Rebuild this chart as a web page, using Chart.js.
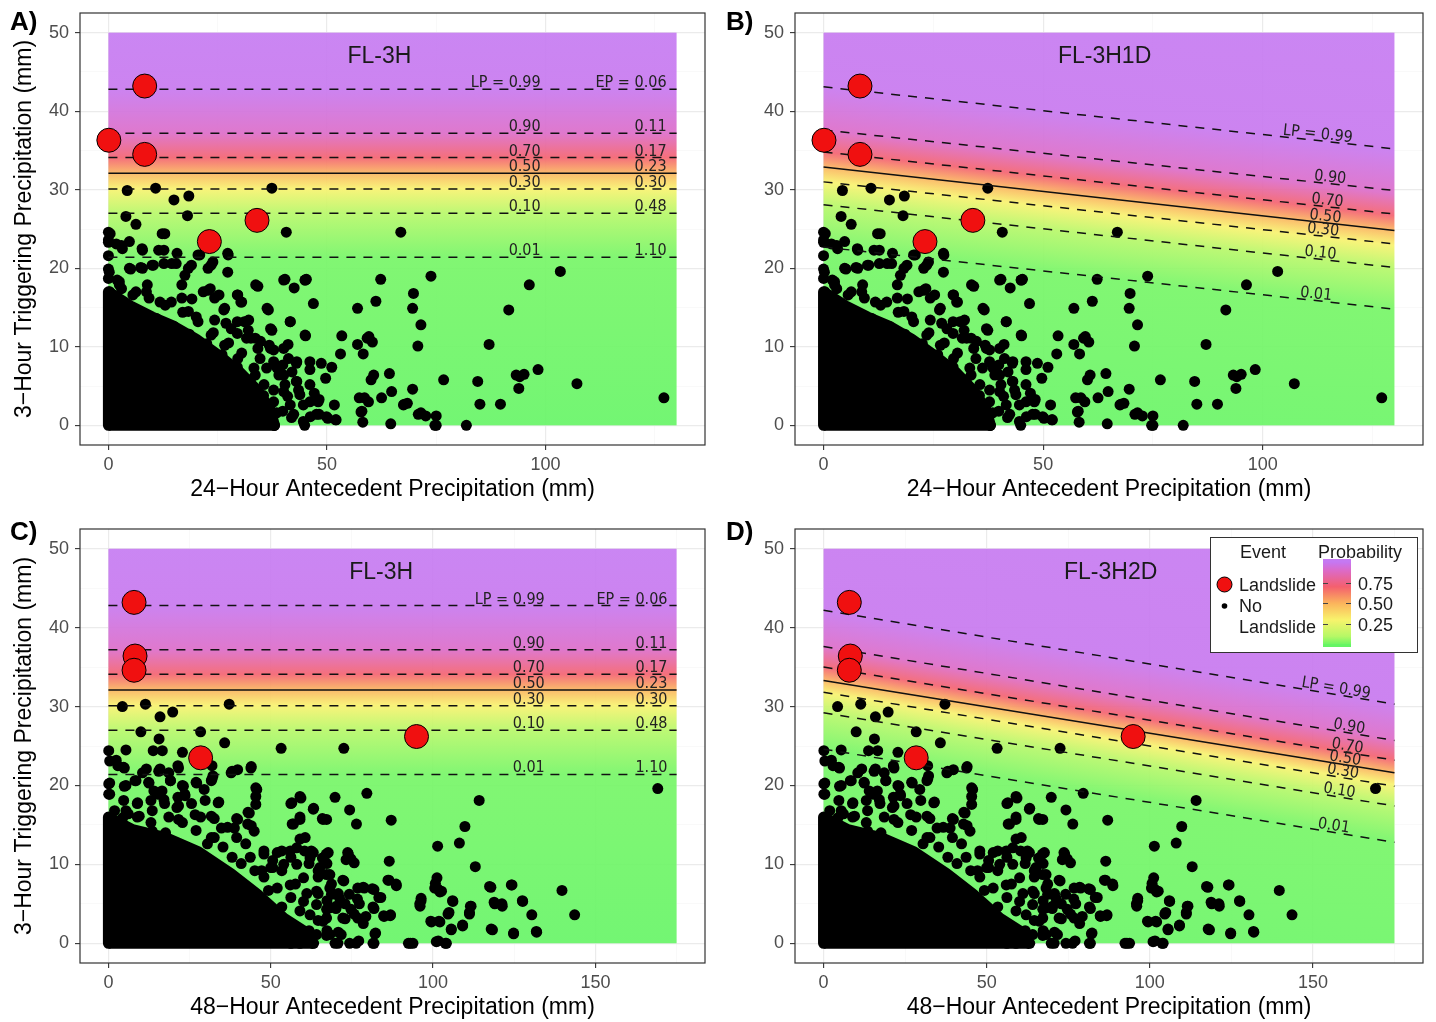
<!DOCTYPE html>
<html>
<head>
<meta charset="utf-8">
<script src="https://cdn.jsdelivr.net/npm/chart.js@4.4.1/dist/chart.umd.min.js"></script>
<style>
body { margin: 0; background: #fff; }
#wrap { position: relative; width: 1436px; height: 1022px; overflow: hidden; }
canvas { position: absolute; }
</style>
</head>
<body>
<div id="wrap">
	<canvas id="panelA" width="718" height="511" style="left:0;top:0"></canvas>
	<canvas id="panelB" width="720" height="511" style="left:716px;top:0"></canvas>
	<canvas id="panelC" width="718" height="511" style="left:0;top:511px"></canvas>
	<canvas id="panelD" width="720" height="511" style="left:716px;top:511px"></canvas>
</div>
<script>
// tick values
const yMajor = [0, 10, 20, 30, 40, 50];
const yMinor = [5, 15, 25, 35, 45];
const x24Major = [0, 50, 100];
const x24Minor = [25, 75, 125];
const x48Major = [0, 50, 100, 150];
const x48Minor = [25, 75, 125, 175];

// probability contours (3-hour value at x = 0 and at the right end)
const probLevels = [0.01, 0.10, 0.30, 0.50, 0.70, 0.90, 0.99];
const epLabels = ["1.10", "0.48", "0.30", "0.23", "0.17", "0.11", "0.06"];
const fl3hStart = [21.4, 27.0, 30.1, 32.1, 34.1, 37.2, 42.8];
const fl3hEnd = [21.4, 27.0, 30.1, 32.1, 34.1, 37.2, 42.8];
const fl3h1dStart = [22.7, 28.1, 31.0, 32.9, 34.8, 37.6, 43.1];
const fl3h1dEnd = [14.8, 20.1, 23.1, 24.8, 26.9, 29.9, 35.2];
const fl3h2dStart = [24.6, 29.2, 31.8, 33.3, 35.0, 37.6, 42.2];
const fl3h2dEnd = [12.8, 17.4, 19.9, 21.6, 23.2, 25.7, 30.3];

// landslide events [antecedent, 3-hour]
const landslide24 = [[0.1, 36.3], [8.3, 43.2], [8.3, 34.5], [23.1, 23.4], [34.0, 26.1]];
const landslide48 = [[7.9, 43.2], [8.2, 36.4], [7.9, 34.6], [28.4, 23.5], [94.9, 26.2]];

// outline of the solid mass of overlapping no-landslide points
const dense24 = [[0, 0], [0, 17], [5, 15.2], [10, 13.8], [15, 12.6], [20, 11], [25, 9], [30, 6.8], [34, 4.5],
	[37, 2], [38, 0]];
const dense48 = [[0, 0], [0, 16], [7.4, 14.4], [17.6, 13.4], [27.7, 11.6], [37.8, 8.8], [45.9, 6.2], [54, 3.2],
	[60, 1.6], [63, 0]];

// single no-landslide points outside the mass
const noLandslide24 = [
	[4.3,29.9],[10.8,30.2],[37.4,30.2],[15.0,28.7],[18.4,29.2],[4.0,26.6],[6.3,25.6],[18.1,26.7],[40.7,24.6],[66.9,24.6],
	[0.4,24.4],[12.9,24.4],[7.7,22.5],[3.0,22.9],[12.7,22.3],[20.9,21.7],[27.4,21.7],[10.3,20.4],[15.5,20.6],[19.0,20.4],
	[23.5,20.4],[5.1,19.9],[7.4,20.1],[40.4,18.6],[45.3,18.6],[42.5,17.5],[34.2,17.7],[62.3,18.6],[73.8,19.0],[103.4,19.6],
	[96.3,17.9],[69.8,16.8],[61.2,15.8],[46.9,15.5],[57.0,14.9],[69.6,14.9],[91.6,14.7],[36.6,14.7],[29.5,16.6],[30.5,15.7],
	[26.4,14.7],[17.0,14.4],[41.6,13.2],[71.5,12.8],[37.4,12.1],[26.9,13.0],[45.1,11.4],[53.4,11.4],[59.6,11.3],[60.4,10.6],
	[57.0,10.3],[70.8,10.1],[87.1,10.3],[53.1,9.1],[58.3,9.1],[41.1,10.3],[37.8,9.6],[34.7,8.5],[43.0,7.9],[46.1,8.1],
	[48.7,7.9],[51.1,7.4],[42.0,6.8],[39.0,6.4],[49.7,6.0],[60.7,6.4],[64.3,6.6],[76.7,5.8],[84.5,5.6],[94.1,6.2],
	[95.1,6.5],[98.3,7.1],[107.2,5.3],[93.9,4.7],[69.6,4.6],[64.8,4.3],[58.6,3.5],[62.5,3.5],[48.2,3.3],[51.7,2.6],
	[47.1,4.1],[41.0,3.7],[67.7,2.7],[68.4,2.8],[85.0,2.7],[89.7,2.7],[127.1,3.5],[58.0,1.8],[71.5,1.6],[72.6,1.2],
	[75.0,1.2],[52.1,0.7],[50.2,0.9],[58.2,0.4],[64.6,0.2],[75.0,0.0],[81.9,0.0],[44.9,0.0],[38.0,0.0],[41.9,1.0],
	[46.2,1.1],[48.2,1.4],[34.7,1.4],[0,24.6],[0,23.3],[0,21.6],[0,19.9],[0,18.7],[0.3,17.0],[2.0,18.5],
	[3.0,17.4],[5.6,16.6],[8.7,17.0],[11.8,15.7],[14.4,15.7],[19.1,16.1],[21.7,17.0],[23.3,17.4],[25.3,16.6],[20.1,13.8],
	[24.3,13.4],[29.5,13.2],[32.1,13.4],[29.5,11.7],[32.0,12.1],[33.6,11.1],[36.8,10.2],[34.2,9.8],[31.6,11.1],[37.8,8.1],
	[39.9,7.7],[36.2,7.3],[33.6,6.4],[40.4,5.2],[37.8,4.5],[43.0,5.6],[43.5,4.5],[44.6,2.6],[37.8,3.0],[35.7,2.2],
	[39.9,1.8],[59.2,11.1],[60.1,5.8],[57.4,3.5],[59.5,3.0],[67.5,2.6],[70.9,1.4],[74.7,0.0],[57.8,1.7],[45.0,18.5],
	[48.0,3.0],[47.6,1.4],[49.9,1.1],[52.0,0.7],[93.3,6.4],[1.5,16.2],[4.5,15.0],[7.5,14.4],[11.0,13.6],[15.0,12.6],
	[18.5,11.6],[22.5,10.4],[26.0,9.0],[29.5,7.4],[32.5,5.8],[35.5,3.8],[38.5,1.6],[27.5,10.5],[24.0,11.8],[30.5,9.2],
	[0,23.6],[1.8,23.1],[3.2,22.5],[4.8,23.4],[7.8,22.3],[12.3,24.4],[11.5,22.3],[15.7,21.9],[20.5,21.7],[23.9,20.8],
	[27.3,21.9],[4.8,20.0],[7.8,20.0],[10.0,20.4],[12.7,20.6],[14.5,20.6],[18.3,20.0],[22.8,20.0],[27.3,19.5],[17.5,19.1],
	[16.8,17.9],[8.9,17.9],[2.5,18.3],[0.2,19.5],[22.8,17.2],[24.3,16.2],[29.6,16.6],[30.3,15.7],[26.6,14.9],[36.3,14.9],
	[37.1,12.3],[41.6,13.2],[45.0,11.5],[31.1,13.2],[28.1,12.3],[32.6,11.1],[34.8,10.7],[37.1,9.8],[40.1,9.8],[41.2,8.5],
	[43.1,8.1],[46.1,7.1],[38.6,7.3],[40.1,6.4],[43.1,5.6],[46.1,5.2],[40.1,4.3],[43.8,3.9],[46.1,3.0],[41.6,2.6],
	[37.8,0.1],[44.6,0.5],[42.4,1.4],[35.6,5.2],[33.3,7.3],[29.6,8.5],[26.6,10.2],[23.5,11.5],[20.5,13.2],[18.3,14.5],
	[16.8,16.2],[13.0,15.3],[9.3,16.2],[6.3,17.0],[2.5,17.9],[33.7,17.9],[40.1,18.5],[45.0,18.5]
];
const noLandslide48 = [
	[4.3,30.0],[11.4,30.3],[37.2,30.3],[15.9,28.7],[19.8,29.3],[10.0,26.8],[28.4,26.8],[15.6,25.9],[35.8,25.4],[53.2,24.7],
	[72.5,24.7],[5.4,24.5],[0.1,24.4],[13.8,24.4],[16.6,24.4],[22.8,24.2],[2.4,23.2],[4.7,22.3],[11.7,22.1],[15.9,22.1],
	[21.4,22.5],[31.9,22.5],[38.1,21.8],[39.8,22.0],[44.0,22.4],[0.1,20.2],[5.4,20.0],[8.2,20.6],[12.4,20.4],[19.1,20.6],
	[22.8,20.0],[27.0,20.4],[31.9,20.8],[0.1,18.9],[15.2,18.9],[23.5,18.9],[45.4,19.7],[45.4,18.6],[59.0,18.6],[56.2,17.7],
	[69.8,18.5],[79.6,19.0],[114.2,18.1],[169.2,19.6],[34.0,17.9],[43.0,16.6],[39.5,15.8],[44.0,14.9],[59.0,16.0],[63.2,17.1],
	[65.9,15.8],[74.3,16.9],[76.4,15.1],[87.1,15.6],[109.8,14.8],[56.6,15.1],[59.0,13.2],[60.4,11.7],[101.4,12.3],[108.1,12.7],
	[86.5,10.4],[73.9,11.3],[74.7,10.7],[65.9,10.8],[62.5,11.7],[53.4,11.7],[56.2,10.9],[50.6,10.5],[113.0,9.7],[72.5,7.9],
	[86.1,8.0],[88.6,7.5],[81.3,6.9],[78.5,7.1],[76.7,5.6],[83.3,5.8],[100.7,7.6],[101.4,6.9],[102.1,6.5],[96.3,5.4],
	[95.9,5.0],[117.4,7.2],[124.1,7.4],[139.7,6.7],[118.8,5.2],[121.2,5.0],[127.5,5.4],[106.0,5.4],[111.5,4.7],[111.2,3.9],
	[104.9,3.9],[130.4,3.6],[143.6,3.6],[81.5,4.6],[84.8,3.5],[86.8,3.5],[99.3,2.8],[101.8,2.8],[109.1,2.2],[105.6,1.8],
	[117.9,1.8],[124.8,1.3],[131.8,1.5],[82.1,1.2],[81.5,0.0],[77.1,0.3],[74.3,0.0],[69.8,0.0],[63.2,0.0],[59.0,0.0],
	[56.2,0.0],[92.4,0.0],[93.8,0.0],[101.0,0.2],[103.8,0.0],[64.6,6.3],[67.3,5.4],[70.1,4.4],[72.9,3.1],[64.6,2.9],
	[61.8,1.6],[57.6,0.8],[67.3,1.6],[70.8,1.4],[72.9,5.0],[64.6,8.4],[68.7,7.5],[57.6,7.5],[56.2,5.8],[53.4,4.6],
	[52.0,3.3],[50.6,1.6],[47.9,8.4],[45.1,9.2],[49.3,6.7],[53.4,9.2],[61.8,10.1],[64.6,9.2],[67.3,10.1],[70.8,6.3],
	[75.7,3.7],[78.5,2.5],[59.0,4.1],[61.1,6.3],[8.9,17.7],[13.1,18.1],[17.3,17.7],[21.4,18.5],[25.6,17.7],[29.8,18.1],
	[8.9,16.0],[13.1,15.3],[18.6,16.0],[22.8,15.3],[28.4,16.0],[32.6,15.8],[36.7,14.7],[39.5,13.4],[42.3,12.6],[32.6,13.4],
	[35.3,12.2],[38.1,10.9],[40.9,10.1],[43.7,10.9],[47.9,11.3],[50.6,9.6],[47.2,9.2],[4.7,18.1],[1.9,16.8],[6.1,16.4],
	[27.0,14.3],[30.5,12.6],[1.3,15.1],[0.4,23.1],[2.9,22.5],[4.9,22.2],[10.5,21.6],[15.5,21.8],[18.6,21.6],[21.6,22.2],
	[32.2,21.2],[37.8,21.6],[43.9,22.2],[0.4,20.3],[0.4,18.9],[4.9,19.9],[8.5,20.6],[12.5,20.3],[14.0,19.3],[16.5,19.3],
	[19.1,20.6],[23.1,19.9],[27.2,20.3],[29.5,19.5],[31.7,20.6],[17.1,18.2],[21.6,17.4],[23.6,18.7],[33.8,17.8],[45.7,19.5],
	[45.4,17.6],[9.0,17.8],[5.4,16.8],[13.5,16.8],[21.1,17.2],[26.7,16.3],[31.7,16.1],[39.8,15.7],[43.4,16.5],[42.9,15.1],
	[56.5,17.8],[59.3,18.4],[63.1,17.0],[66.1,15.7],[59.0,15.7],[57.0,15.1],[60.6,13.4],[38.8,14.6],[44.9,14.2],[34.8,14.6],
	[31.7,13.4],[21.6,15.7],[17.6,14.0],[13.5,14.2],[9.5,16.1],[4.4,15.9],[47.9,11.7],[52.0,11.5],[56.0,11.7],[58.0,12.1],
	[63.1,11.5],[67.1,11.3],[62.1,10.8],[58.0,10.0],[54.0,10.0],[50.0,9.6],[65.1,9.6],[68.2,8.7],[60.1,8.3],[56.0,7.4],
	[52.0,7.0],[64.1,6.6],[68.2,7.0],[60.1,5.3],[64.1,4.9],[68.2,4.5],[62.1,3.6],[66.1,2.8],[68.2,1.1],[64.1,1.1],
	[60.1,0.3],[67.2,15.7],[67.7,11.5],[73.7,11.5],[73.2,10.6],[75.7,10.2],[67.2,8.7],[72.2,8.0],[86.4,8.0],[88.7,7.3],
	[101.2,8.3],[100.5,7.0],[102.6,6.6],[68.7,6.2],[71.2,5.7],[74.2,6.2],[76.8,7.0],[78.8,7.0],[81.8,6.8],[83.9,5.8],
	[77.3,5.0],[81.8,4.4],[74.7,4.3],[70.2,4.7],[72.2,3.2],[67.2,3.2],[76.8,3.2],[79.3,3.4],[84.9,3.4],[86.9,3.6],
	[96.3,5.7],[96.0,4.7],[106.1,5.3],[111.7,4.7],[111.2,3.7],[104.6,3.7],[99.5,2.7],[102.1,2.7],[109.1,2.3],[105.6,1.7],
	[117.8,7.1],[124.3,7.4],[119.0,5.0],[121.3,4.7],[127.6,5.3],[118.3,1.7],[124.8,1.2],[131.9,1.4],[82.3,1.3],[81.8,0.0],
	[93.0,0.0],[101.6,0.3],[104.1,0.0],[76.3,0.0],[70.7,0.0],[67.2,1.0],[71.7,1.1],[67.2,4.3]
];

// probability colour ramp (0 .. levels .. 1)
const rampStops = [0, 0.01, 0.10, 0.30, 0.50, 0.70, 0.90, 0.99, 1];
const rampColors = ["#64f564", "#74f664", "#b6f866", "#f8f36c", "#fbb45c", "#f4606e", "#dc6ac8", "#c776ef", "#c579f2"];

Chart.defaults.font.family = '"Liberation Sans", Arial, Helvetica, sans-serif';
const labelFont = '16px "Liberation Sans Narrow", "DejaVu Sans Condensed", sans-serif';

function toPoints(list) {
	return list.map(([x, y]) => ({ x, y }));
}

function gridFor(major) {
	const isMajor = (c) => c.tick && major.includes(c.tick.value);
	return {
		color: (c) => (isMajor(c) ? "#ebebeb" : "#f5f5f5"),
		lineWidth: (c) => (isMajor(c) ? 1.2 : 0.6),
		tickColor: (c) => (isMajor(c) ? "#333333" : "rgba(0,0,0,0)"),
		tickLength: 5,
		tickWidth: 1.1,
	};
}

function axis(major, minor, min, max, size, isX, title, titlePad, tickPad) {
	return {
		type: "linear",
		min: min,
		max: max,
		afterBuildTicks: (s) => {
			s.ticks = major.concat(minor).sort((a, b) => a - b).map((v) => ({ value: v }));
		},
		afterFit: (s) => {
			if (isX) s.height = size;
			else s.width = size;
			s.paddingTop = 0;
			s.paddingBottom = 0;
			s.paddingLeft = 0;
			s.paddingRight = 0;
		},
		grid: gridFor(major),
		border: { display: false },
		ticks: {
			autoSkip: false,
			maxRotation: 0,
			minRotation: 0,
			color: "#4d4d4d",
			font: { size: 18 },
			padding: tickPad,
			callback: (v) => (major.includes(v) ? String(v) : ""),
		},
		title: title
			? {
					display: true,
					text: title,
					color: "#000",
					font: { size: 23 },
					padding: isX ? { top: 0, bottom: titlePad } : { top: titlePad, bottom: 0 },
			  }
			: { display: false },
	};
}

function backgroundPlugin(p) {
	return {
		id: "probBackground",
		beforeDatasetsDraw(chart) {
			const { ctx, scales: { x, y } } = chart;
			const left = x.getPixelForValue(0), right = x.getPixelForValue(p.xMax);
			const top = y.getPixelForValue(50), bottom = y.getPixelForValue(0);
			const mid = probLevels.indexOf(0.5);
			const ax = left, ay = y.getPixelForValue(p.start[mid]);
			const dx = right - left, dy = y.getPixelForValue(p.end[mid]) - ay;
			const len = Math.hypot(dx, dy);
			const nx = dy / len, ny = -dx / len;
			const proj = (px, py) => (px - ax) * nx + (py - ay) * ny;
			const corners = [proj(left, top), proj(right, top), proj(left, bottom), proj(right, bottom)];
			const lo = Math.min(...corners), hi = Math.max(...corners);
			const g = ctx.createLinearGradient(ax + nx * lo, ay + ny * lo, ax + nx * hi, ay + ny * hi);
			g.addColorStop(0, rampColors[0]);
			probLevels.forEach((lev, i) => {
				const t = (proj(left, y.getPixelForValue(p.start[i])) - lo) / (hi - lo);
				g.addColorStop(Math.min(1, Math.max(0, t)), rampColors[i + 1]);
			});
			g.addColorStop(1, rampColors[rampColors.length - 1]);
			ctx.save();
			ctx.globalAlpha = 0.9;
			ctx.fillStyle = g;
			ctx.fillRect(left, top, right - left, bottom - top);
			ctx.restore();
		},
	};
}

function decorPlugin(p) {
	return {
		id: "decor",
		afterDatasetsDraw(chart) {
			const { ctx, scales: { x, y } } = chart;
			const last = probLevels.length - 1;
			ctx.save();
			ctx.fillStyle = "#1a1a1a";
			ctx.font = '23px "Liberation Sans", Arial, sans-serif';
			ctx.textAlign = "center";
			ctx.textBaseline = "middle";
			ctx.fillText(p.title, x.getPixelForValue(p.titleX), y.getPixelForValue(47.0));

			ctx.font = labelFont;
			ctx.fillStyle = "#222";
			ctx.textBaseline = "alphabetic";
			probLevels.forEach((lev, i) => {
				const lp = (i === last ? "LP = " : "") + lev.toFixed(2);
				if (p.flat) {
					const py = y.getPixelForValue(p.start[i]) - 2;
					ctx.textAlign = "right";
					ctx.fillText(lp, x.getPixelForValue(p.lpRight), py);
					ctx.fillText((i === last ? "EP = " : "") + epLabels[i], x.getPixelForValue(p.epRight), py);
				} else {
					const lx = p.labelX[i];
					const ly = p.start[i] + ((p.end[i] - p.start[i]) * lx) / p.xMax;
					const ang = Math.atan2(
						y.getPixelForValue(p.end[i]) - y.getPixelForValue(p.start[i]),
						x.getPixelForValue(p.xMax) - x.getPixelForValue(0)
					);
					ctx.save();
					ctx.translate(x.getPixelForValue(lx), y.getPixelForValue(ly));
					ctx.rotate(ang);
					ctx.textAlign = "center";
					ctx.fillText(lp, 0, -2);
					ctx.restore();
				}
			});
			ctx.restore();
		},
		afterDraw(chart) {
			const { ctx, chartArea: a } = chart;
			ctx.save();
			ctx.strokeStyle = "#333";
			ctx.lineWidth = 1.2;
			ctx.strokeRect(a.left, a.top, a.right - a.left, a.bottom - a.top);
			ctx.fillStyle = "#000";
			ctx.font = 'bold 26px "Liberation Sans", Arial, sans-serif';
			ctx.textAlign = "left";
			ctx.textBaseline = "alphabetic";
			ctx.fillText(p.letter, 10, p.letterY);
			if (p.legend) drawLegend(ctx);
			ctx.restore();
		},
	};
}

function drawLegend(ctx) {
	ctx.fillStyle = "#fff";
	ctx.fillRect(494, 26, 208, 116);
	ctx.strokeStyle = "#333";
	ctx.lineWidth = 1;
	ctx.strokeRect(494.5, 26.5, 207, 115);
	ctx.fillStyle = "#1a1a1a";
	ctx.font = '18px "Liberation Sans", Arial, sans-serif';
	ctx.textAlign = "center";
	ctx.fillText("Event", 547, 47);
	ctx.fillText("Probability", 644, 47);
	ctx.textAlign = "left";
	ctx.fillText("Landslide", 523, 80);
	ctx.fillText("No", 523, 101);
	ctx.fillText("Landslide", 523, 122);
	ctx.fillText("0.75", 642, 79);
	ctx.fillText("0.50", 642, 99);
	ctx.fillText("0.25", 642, 120);
	ctx.beginPath();
	ctx.arc(508.5, 73.5, 7.5, 0, Math.PI * 2);
	ctx.fillStyle = "#f01010";
	ctx.fill();
	ctx.strokeStyle = "#000";
	ctx.stroke();
	ctx.beginPath();
	ctx.arc(508.5, 95, 2.8, 0, Math.PI * 2);
	ctx.fillStyle = "#000";
	ctx.fill();
	// colour bar: p = 0 at y 133.6, p = 1 at y 51
	const y0 = 133.6, y1 = 51;
	const g = ctx.createLinearGradient(0, y0, 0, y1);
	rampStops.forEach((s, i) => g.addColorStop(s, rampColors[i]));
	ctx.fillStyle = g;
	ctx.fillRect(607, 48, 28, 88);
	ctx.strokeStyle = "#444";
	ctx.lineWidth = 1;
	[0.25, 0.5, 0.75].forEach((t) => {
		const ty = Math.round(y0 + (y1 - y0) * t) + 0.5;
		ctx.beginPath();
		ctx.moveTo(607, ty); ctx.lineTo(612, ty);
		ctx.moveTo(630, ty); ctx.lineTo(635, ty);
		ctx.stroke();
	});
}

function buildPanel(p) {
	const contourSets = probLevels.map((lev, i) => ({
		type: "line",
		order: 1,
		data: [{ x: 0, y: p.start[i] }, { x: p.xMax, y: p.end[i] }],
		borderColor: "#111",
		borderWidth: 1.5,
		borderDash: lev === 0.5 ? [] : [9, 8],
		pointRadius: 0,
		fill: false,
	}));
	return new Chart(document.getElementById(p.id), {
		type: "scatter",
		data: {
			datasets: [
				{
					type: "scatter",
					order: 0,
					data: toPoints(p.slides),
					pointRadius: 12,
					backgroundColor: "#f01010",
					borderColor: "#000",
					borderWidth: 1,
				},
				...contourSets,
				{
					type: "scatter",
					order: 2,
					data: toPoints(p.points),
					pointRadius: 5.5,
					backgroundColor: "#000",
					borderWidth: 0,
				},
				{
					type: "line",
					order: 3,
					data: toPoints(p.dense),
					borderColor: "#000",
					backgroundColor: "#000",
					borderWidth: 11,
					borderJoinStyle: "round",
					borderCapStyle: "round",
					pointRadius: 0,
					fill: { value: -0.7 },
				},
			],
		},
		options: {
			responsive: false,
			animation: false,
			events: [],
			layout: { padding: { left: 0, right: p.padRight, top: p.padTop, bottom: 0 } },
			plugins: { legend: { display: false }, tooltip: { enabled: false } },
			scales: {
				x: axis(p.xMajorTicks, p.xMinorTicks, -p.xMax * 0.05, p.xMax * 1.05, p.xHeight, true, p.xTitle, p.xTitlePad, p.xTickPad),
				y: axis(yMajor, yMinor, -2.5, 52.5, p.yWidth, false, p.yTitle, 11, 6),
			},
		},
		plugins: [backgroundPlugin(p), decorPlugin(p)],
	});
}

const yTitle = "3\u2212Hour Triggering Precipitation (mm)";

buildPanel({
	id: "panelA", letter: "A)", letterY: 30, title: "FL-3H", titleX: 62, flat: true, lpRight: 98.9, epRight: 127.7,
	xMax: 130, xMajorTicks: x24Major, xMinorTicks: x24Minor, start: fl3hStart, end: fl3hEnd,
	slides: landslide24, points: noLandslide24, dense: dense24,
	padTop: 5, padRight: 4, yWidth: 80, xHeight: 66, xTickPad: 4, xTitlePad: 8,
	xTitle: "24\u2212Hour Antecedent Precipitation (mm)", yTitle: yTitle,
});
buildPanel({
	id: "panelB", letter: "B)", letterY: 30, title: "FL-3H1D", titleX: 64, flat: false,
	labelX: [112, 113, 113.6, 114.1, 114.6, 115.2, 112.4],
	xMax: 130, xMajorTicks: x24Major, xMinorTicks: x24Minor, start: fl3h1dStart, end: fl3h1dEnd,
	slides: landslide24, points: noLandslide24, dense: dense24,
	padTop: 5, padRight: 6, yWidth: 79, xHeight: 66, xTickPad: 4, xTitlePad: 8,
	xTitle: "24\u2212Hour Antecedent Precipitation (mm)", yTitle: null,
});
buildPanel({
	id: "panelC", letter: "C)", letterY: 29, title: "FL-3H", titleX: 84, flat: true, lpRight: 134.4, epRight: 172.2,
	xMax: 175, xMajorTicks: x48Major, xMinorTicks: x48Minor, start: fl3hStart, end: fl3hEnd,
	slides: landslide48, points: noLandslide48, dense: dense48,
	padTop: 18, padRight: 4, yWidth: 80, xHeight: 59, xTickPad: 4, xTitlePad: 1,
	xTitle: "48\u2212Hour Antecedent Precipitation (mm)", yTitle: yTitle,
});
buildPanel({
	id: "panelD", letter: "D)", letterY: 29, title: "FL-3H2D", titleX: 88, flat: false, legend: true,
	labelX: [156.1, 157.8, 158.9, 159.6, 160.3, 160.8, 156.8],
	xMax: 175, xMajorTicks: x48Major, xMinorTicks: x48Minor, start: fl3h2dStart, end: fl3h2dEnd,
	slides: landslide48, points: noLandslide48, dense: dense48,
	padTop: 18, padRight: 6, yWidth: 79, xHeight: 59, xTickPad: 4, xTitlePad: 1,
	xTitle: "48\u2212Hour Antecedent Precipitation (mm)", yTitle: null,
});
</script>
</body>
</html>
